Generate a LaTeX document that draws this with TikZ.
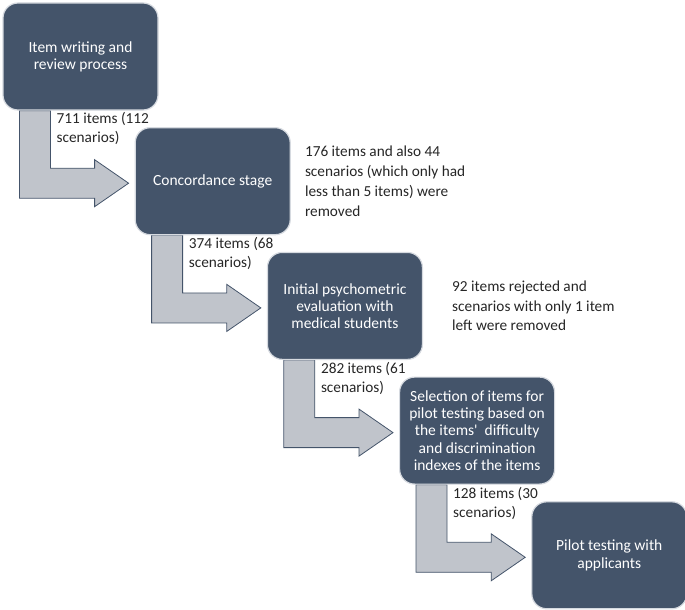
\documentclass[tikz,border=0pt]{standalone}
\usepackage{fontspec}
\setmainfont{Carlito}
\usepackage{tikz}
\usetikzlibrary{positioning, calc, backgrounds}
\definecolor{boxblue}{RGB}{68,84,106}
\definecolor{arrowgray}{RGB}{192,196,203}
\definecolor{rimgray}{RGB}{214,218,224}

% bent block arrow from the bottom of one box to the side of the next
\newcommand{\steparrow}[2]{%
  \path[flow] let \p1 = (#1.south west), \p2 = (#2.west) in
    (\x1+17pt, \y1) -- (\x1+48pt, \y1) -- (\x1+48pt, \y2+13pt)
    -- (\x2-40pt, \y2+13pt) -- (\x2-40pt, \y2+21.5pt) -- (\x2-6pt, \y2-2pt)
    -- (\x2-40pt, \y2-25.5pt) -- (\x2-40pt, \y2-17pt)
    -- (\x1+17pt, \y2-17pt) -- cycle;}

\begin{document}
\begin{tikzpicture}[
    x=1pt, y=1pt,
    stage/.style={draw=rimgray, line width=1.2pt, fill=boxblue, rounded corners=15pt,
                  minimum width=155pt, minimum height=107pt, align=center,
                  text=white, font=\fontsize{15.5}{17.2}\selectfont},
    count/.style={anchor=north west, align=left, inner sep=2pt, text=black!85,
                  font=\fontsize{15.3}{19}\selectfont},
    note/.style={align=left, inner sep=2pt, text=black!85,
                 font=\fontsize{15.3}{19.8}\selectfont},
    flow/.style={draw=boxblue, line width=0.8pt, fill=arrowgray}
  ]
    \useasboundingbox (0,0) rectangle (685,-610);

    \node[stage] (item) at (80.5,-56.5) {Item writing and\\review process};
    \node[stage, below right=16.5pt and -24pt of item] (conc)  {Concordance stage};
    \node[stage, below right=16.5pt and -24pt of conc] (psych) {Initial psychometric\\evaluation with\\medical students};
    \node[stage, below right=16.5pt and -24pt of psych] (sel)  {Selection of items for\\pilot testing based on\\the items\textquotesingle~ difficulty\\and discrimination\\indexes of the items};
    \node[stage, below right=16.5pt and -24pt of sel] (pilot)  {Pilot testing with\\applicants};

    \begin{scope}[on background layer]
      \steparrow{item}{conc}
      \steparrow{conc}{psych}
      \steparrow{psych}{sel}
      \steparrow{sel}{pilot}
    \end{scope}

    % item counts passed on
    \node[count] (n1) at ($(item.south west)+(52pt,0pt)$)  {711 items (112\\scenarios)};
    \node[count] (n2) at ($(conc.south west)+(52pt,0pt)$)  {374 items (68\\scenarios)};
    \node[count] (n3) at ($(psych.south west)+(52pt,0pt)$) {282 items (61\\scenarios)};
    \node[count] (n4) at ($(sel.south west)+(52pt,0pt)$)   {128 items (30\\scenarios)};

    % removals
    \node[note, right=12pt of conc]  (r1) {176 items and also 44\\scenarios (which only had\\less than 5 items) were\\removed};
    \node[note, right=27pt of psych] (r2) {92 items rejected and\\scenarios with only 1 item\\left were removed};
\end{tikzpicture}
\end{document}
